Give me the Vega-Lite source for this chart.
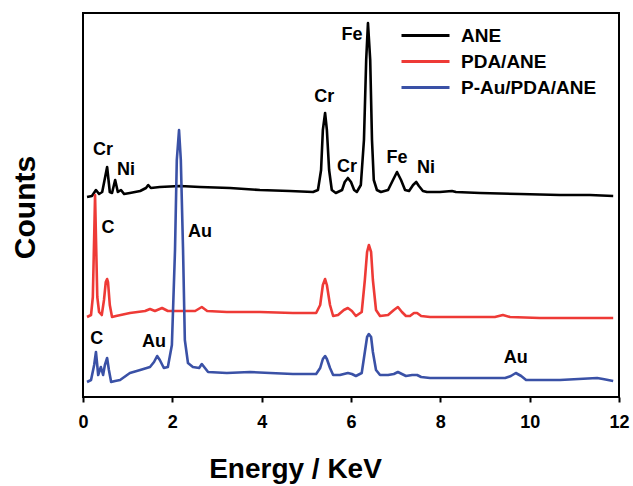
{
  "$schema": "https://vega.github.io/schema/vega-lite/v6.json",
  "width": 536,
  "height": 384,
  "autosize": {"type": "none"},
  "padding": {"left": 83, "top": 13, "right": 14, "bottom": 89},
  "background": "white",
  "config": {
    "font": "Liberation Sans",
    "view": {"stroke": "#000000", "strokeWidth": 2}
  },
  "datasets": {
    "spectra": [
      {"s":"ANE","E":0.09,"c":200},{"s":"ANE","E":0.20,"c":201},{"s":"ANE","E":0.29,"c":207},{"s":"ANE","E":0.36,"c":203},{"s":"ANE","E":0.43,"c":205},{"s":"ANE","E":0.54,"c":230},{"s":"ANE","E":0.60,"c":205},{"s":"ANE","E":0.65,"c":204},{"s":"ANE","E":0.72,"c":217},{"s":"ANE","E":0.78,"c":205},{"s":"ANE","E":0.85,"c":207},{"s":"ANE","E":0.92,"c":203},{"s":"ANE","E":1.05,"c":204},{"s":"ANE","E":1.28,"c":206},{"s":"ANE","E":1.41,"c":209},{"s":"ANE","E":1.46,"c":212},{"s":"ANE","E":1.52,"c":209},{"s":"ANE","E":1.72,"c":210},{"s":"ANE","E":2.17,"c":211},{"s":"ANE","E":2.62,"c":210},{"s":"ANE","E":3.29,"c":209},{"s":"ANE","E":3.96,"c":207},{"s":"ANE","E":4.63,"c":206},{"s":"ANE","E":5.15,"c":205},{"s":"ANE","E":5.26,"c":207},{"s":"ANE","E":5.33,"c":227},{"s":"ANE","E":5.37,"c":267},{"s":"ANE","E":5.42,"c":284},{"s":"ANE","E":5.46,"c":267},{"s":"ANE","E":5.51,"c":227},{"s":"ANE","E":5.57,"c":207},{"s":"ANE","E":5.66,"c":204},{"s":"ANE","E":5.80,"c":207},{"s":"ANE","E":5.86,"c":215},{"s":"ANE","E":5.93,"c":219},{"s":"ANE","E":6.00,"c":215},{"s":"ANE","E":6.07,"c":207},{"s":"ANE","E":6.13,"c":205},{"s":"ANE","E":6.22,"c":212},{"s":"ANE","E":6.29,"c":257},{"s":"ANE","E":6.34,"c":337},{"s":"ANE","E":6.38,"c":374},{"s":"ANE","E":6.43,"c":337},{"s":"ANE","E":6.47,"c":257},{"s":"ANE","E":6.51,"c":217},{"s":"ANE","E":6.58,"c":207},{"s":"ANE","E":6.67,"c":205},{"s":"ANE","E":6.83,"c":207},{"s":"ANE","E":6.94,"c":217},{"s":"ANE","E":7.03,"c":225},{"s":"ANE","E":7.12,"c":217},{"s":"ANE","E":7.21,"c":207},{"s":"ANE","E":7.30,"c":206},{"s":"ANE","E":7.39,"c":212},{"s":"ANE","E":7.46,"c":215},{"s":"ANE","E":7.52,"c":211},{"s":"ANE","E":7.61,"c":206},{"s":"ANE","E":7.70,"c":205},{"s":"ANE","E":7.99,"c":205},{"s":"ANE","E":8.26,"c":206},{"s":"ANE","E":8.35,"c":205},{"s":"ANE","E":8.89,"c":204},{"s":"ANE","E":9.78,"c":203},{"s":"ANE","E":10.68,"c":202},{"s":"ANE","E":11.35,"c":202},{"s":"ANE","E":11.87,"c":201},
      {"s":"PDA/ANE","E":0.09,"c":80},{"s":"PDA/ANE","E":0.18,"c":82},{"s":"PDA/ANE","E":0.22,"c":100},{"s":"PDA/ANE","E":0.25,"c":160},{"s":"PDA/ANE","E":0.27,"c":202},{"s":"PDA/ANE","E":0.29,"c":160},{"s":"PDA/ANE","E":0.32,"c":100},{"s":"PDA/ANE","E":0.36,"c":85},{"s":"PDA/ANE","E":0.42,"c":82},{"s":"PDA/ANE","E":0.47,"c":97},{"s":"PDA/ANE","E":0.51,"c":115},{"s":"PDA/ANE","E":0.54,"c":118},{"s":"PDA/ANE","E":0.56,"c":115},{"s":"PDA/ANE","E":0.60,"c":92},{"s":"PDA/ANE","E":0.65,"c":80},{"s":"PDA/ANE","E":0.74,"c":81},{"s":"PDA/ANE","E":1.05,"c":84},{"s":"PDA/ANE","E":1.39,"c":86},{"s":"PDA/ANE","E":1.50,"c":88},{"s":"PDA/ANE","E":1.61,"c":86},{"s":"PDA/ANE","E":1.77,"c":89},{"s":"PDA/ANE","E":1.90,"c":86},{"s":"PDA/ANE","E":2.17,"c":86},{"s":"PDA/ANE","E":2.51,"c":86},{"s":"PDA/ANE","E":2.66,"c":90},{"s":"PDA/ANE","E":2.78,"c":86},{"s":"PDA/ANE","E":3.22,"c":85},{"s":"PDA/ANE","E":3.96,"c":85},{"s":"PDA/ANE","E":4.70,"c":84},{"s":"PDA/ANE","E":5.22,"c":84},{"s":"PDA/ANE","E":5.31,"c":92},{"s":"PDA/ANE","E":5.37,"c":112},{"s":"PDA/ANE","E":5.42,"c":118},{"s":"PDA/ANE","E":5.46,"c":112},{"s":"PDA/ANE","E":5.53,"c":92},{"s":"PDA/ANE","E":5.60,"c":81},{"s":"PDA/ANE","E":5.71,"c":82},{"s":"PDA/ANE","E":5.84,"c":87},{"s":"PDA/ANE","E":5.93,"c":89},{"s":"PDA/ANE","E":6.02,"c":86},{"s":"PDA/ANE","E":6.11,"c":81},{"s":"PDA/ANE","E":6.24,"c":85},{"s":"PDA/ANE","E":6.31,"c":117},{"s":"PDA/ANE","E":6.36,"c":145},{"s":"PDA/ANE","E":6.40,"c":152},{"s":"PDA/ANE","E":6.45,"c":145},{"s":"PDA/ANE","E":6.49,"c":117},{"s":"PDA/ANE","E":6.56,"c":87},{"s":"PDA/ANE","E":6.65,"c":81},{"s":"PDA/ANE","E":6.83,"c":82},{"s":"PDA/ANE","E":6.96,"c":87},{"s":"PDA/ANE","E":7.05,"c":90},{"s":"PDA/ANE","E":7.14,"c":85},{"s":"PDA/ANE","E":7.23,"c":81},{"s":"PDA/ANE","E":7.32,"c":81},{"s":"PDA/ANE","E":7.41,"c":84},{"s":"PDA/ANE","E":7.48,"c":84},{"s":"PDA/ANE","E":7.57,"c":81},{"s":"PDA/ANE","E":7.77,"c":80},{"s":"PDA/ANE","E":8.44,"c":80},{"s":"PDA/ANE","E":9.22,"c":80},{"s":"PDA/ANE","E":9.40,"c":82},{"s":"PDA/ANE","E":9.56,"c":80},{"s":"PDA/ANE","E":10.23,"c":79},{"s":"PDA/ANE","E":11.13,"c":79},{"s":"PDA/ANE","E":11.87,"c":79},
      {"s":"P-Au/PDA/ANE","E":0.09,"c":15},{"s":"P-Au/PDA/ANE","E":0.18,"c":17},{"s":"P-Au/PDA/ANE","E":0.25,"c":32},{"s":"P-Au/PDA/ANE","E":0.29,"c":45},{"s":"P-Au/PDA/ANE","E":0.34,"c":22},{"s":"P-Au/PDA/ANE","E":0.40,"c":30},{"s":"P-Au/PDA/ANE","E":0.45,"c":22},{"s":"P-Au/PDA/ANE","E":0.49,"c":32},{"s":"P-Au/PDA/ANE","E":0.54,"c":39},{"s":"P-Au/PDA/ANE","E":0.58,"c":27},{"s":"P-Au/PDA/ANE","E":0.63,"c":15},{"s":"P-Au/PDA/ANE","E":0.72,"c":16},{"s":"P-Au/PDA/ANE","E":0.83,"c":17},{"s":"P-Au/PDA/ANE","E":1.05,"c":24},{"s":"P-Au/PDA/ANE","E":1.28,"c":27},{"s":"P-Au/PDA/ANE","E":1.50,"c":30},{"s":"P-Au/PDA/ANE","E":1.59,"c":35},{"s":"P-Au/PDA/ANE","E":1.66,"c":41},{"s":"P-Au/PDA/ANE","E":1.72,"c":37},{"s":"P-Au/PDA/ANE","E":1.81,"c":29},{"s":"P-Au/PDA/ANE","E":1.90,"c":30},{"s":"P-Au/PDA/ANE","E":1.99,"c":52},{"s":"P-Au/PDA/ANE","E":2.06,"c":147},{"s":"P-Au/PDA/ANE","E":2.10,"c":237},{"s":"P-Au/PDA/ANE","E":2.15,"c":267},{"s":"P-Au/PDA/ANE","E":2.19,"c":237},{"s":"P-Au/PDA/ANE","E":2.24,"c":147},{"s":"P-Au/PDA/ANE","E":2.28,"c":57},{"s":"P-Au/PDA/ANE","E":2.35,"c":34},{"s":"P-Au/PDA/ANE","E":2.46,"c":30},{"s":"P-Au/PDA/ANE","E":2.60,"c":29},{"s":"P-Au/PDA/ANE","E":2.66,"c":33},{"s":"P-Au/PDA/ANE","E":2.73,"c":29},{"s":"P-Au/PDA/ANE","E":2.80,"c":25},{"s":"P-Au/PDA/ANE","E":3.22,"c":24},{"s":"P-Au/PDA/ANE","E":3.74,"c":25},{"s":"P-Au/PDA/ANE","E":4.19,"c":24},{"s":"P-Au/PDA/ANE","E":4.70,"c":23},{"s":"P-Au/PDA/ANE","E":5.22,"c":23},{"s":"P-Au/PDA/ANE","E":5.31,"c":29},{"s":"P-Au/PDA/ANE","E":5.37,"c":38},{"s":"P-Au/PDA/ANE","E":5.42,"c":41},{"s":"P-Au/PDA/ANE","E":5.46,"c":38},{"s":"P-Au/PDA/ANE","E":5.53,"c":29},{"s":"P-Au/PDA/ANE","E":5.60,"c":22},{"s":"P-Au/PDA/ANE","E":5.75,"c":22},{"s":"P-Au/PDA/ANE","E":5.84,"c":23},{"s":"P-Au/PDA/ANE","E":5.93,"c":24},{"s":"P-Au/PDA/ANE","E":6.02,"c":23},{"s":"P-Au/PDA/ANE","E":6.11,"c":21},{"s":"P-Au/PDA/ANE","E":6.24,"c":24},{"s":"P-Au/PDA/ANE","E":6.31,"c":45},{"s":"P-Au/PDA/ANE","E":6.36,"c":60},{"s":"P-Au/PDA/ANE","E":6.40,"c":63},{"s":"P-Au/PDA/ANE","E":6.45,"c":60},{"s":"P-Au/PDA/ANE","E":6.49,"c":45},{"s":"P-Au/PDA/ANE","E":6.56,"c":27},{"s":"P-Au/PDA/ANE","E":6.65,"c":22},{"s":"P-Au/PDA/ANE","E":6.83,"c":22},{"s":"P-Au/PDA/ANE","E":6.96,"c":23},{"s":"P-Au/PDA/ANE","E":7.05,"c":25},{"s":"P-Au/PDA/ANE","E":7.14,"c":23},{"s":"P-Au/PDA/ANE","E":7.23,"c":21},{"s":"P-Au/PDA/ANE","E":7.37,"c":22},{"s":"P-Au/PDA/ANE","E":7.48,"c":22},{"s":"P-Au/PDA/ANE","E":7.57,"c":20},{"s":"P-Au/PDA/ANE","E":7.77,"c":19},{"s":"P-Au/PDA/ANE","E":8.66,"c":19},{"s":"P-Au/PDA/ANE","E":9.45,"c":19},{"s":"P-Au/PDA/ANE","E":9.58,"c":21},{"s":"P-Au/PDA/ANE","E":9.69,"c":24},{"s":"P-Au/PDA/ANE","E":9.81,"c":21},{"s":"P-Au/PDA/ANE","E":9.92,"c":17},{"s":"P-Au/PDA/ANE","E":10.68,"c":17},{"s":"P-Au/PDA/ANE","E":11.51,"c":19},{"s":"P-Au/PDA/ANE","E":11.64,"c":18},{"s":"P-Au/PDA/ANE","E":11.87,"c":16}
    ],
    "labels": [
      {"t":"Cr","E":0.45,"c":247},{"t":"Ni","E":0.96,"c":227},{"t":"Cr","E":5.40,"c":300},{"t":"Cr","E":5.91,"c":230},{"t":"Fe","E":6.02,"c":362},{"t":"Fe","E":7.03,"c":239},{"t":"Ni","E":7.68,"c":229},{"t":"C","E":0.56,"c":169},{"t":"Au","E":2.62,"c":165},{"t":"C","E":0.31,"c":58},{"t":"Au","E":1.59,"c":55},{"t":"Au","E":9.69,"c":39}
    ]
  },
  "layer": [
    {
      "data": {"name": "spectra"},
      "mark": {"type": "line", "strokeWidth": 2.6, "interpolate": "linear", "strokeJoin": "round"},
      "encoding": {
        "x": {
          "field": "E", "type": "quantitative",
          "scale": {"domain": [0, 12], "nice": false, "zero": false},
          "axis": {
            "values": [0, 2, 4, 6, 8, 10, 12],
            "domain": false, "grid": false,
            "tickColor": "#000000", "tickWidth": 2, "tickSize": 5,
            "labelFont": "Liberation Sans", "labelFontWeight": "bold", "labelFontSize": 18,
            "labelColor": "#000000", "labelPadding": 11, "labelFlush": false,
            "title": "Energy / KeV",
            "titleFont": "Liberation Sans", "titleFontWeight": "bold", "titleFontSize": 28,
            "titleColor": "#000000", "titleX": 212, "titleY": 80,
            "titleAlign": "center", "titleBaseline": "alphabetic", "titleAnchor": "start"
          }
        },
        "y": {
          "field": "c", "type": "quantitative",
          "scale": {"domain": [0, 384], "nice": false, "zero": false},
          "axis": {
            "labels": false, "ticks": false, "domain": false, "grid": false,
            "title": "Counts",
            "titleFont": "Liberation Sans", "titleFontWeight": "bold", "titleFontSize": 30,
            "titleColor": "#000000", "titleAngle": 270, "titleX": -58, "titleY": 194,
            "titleAlign": "center", "titleBaseline": "middle"
          }
        },
        "color": {
          "field": "s", "type": "nominal",
          "scale": {"domain": ["ANE", "PDA/ANE", "P-Au/PDA/ANE"], "range": ["#000000", "#EE3A36", "#3A51A6"]},
          "legend": {
            "title": null, "orient": "none", "legendX": 329, "legendY": 9,
            "symbolType": "M-2,0L2,0", "symbolSize": 576, "symbolStrokeWidth": 3,
            "labelFont": "Liberation Sans", "labelFontWeight": "bold", "labelFontSize": 19,
            "labelColor": "#000000", "labelOffset": 22, "rowPadding": 2, "padding": 0
          }
        },
        "order": {"field": "E", "type": "quantitative"}
      }
    },
    {
      "data": {"name": "labels"},
      "mark": {"type": "text", "font": "Liberation Sans", "fontWeight": "bold", "fontSize": 18, "color": "#000000", "align": "center", "baseline": "middle"},
      "encoding": {
        "x": {"field": "E", "type": "quantitative"},
        "y": {"field": "c", "type": "quantitative"},
        "text": {"field": "t"}
      }
    }
  ]
}
